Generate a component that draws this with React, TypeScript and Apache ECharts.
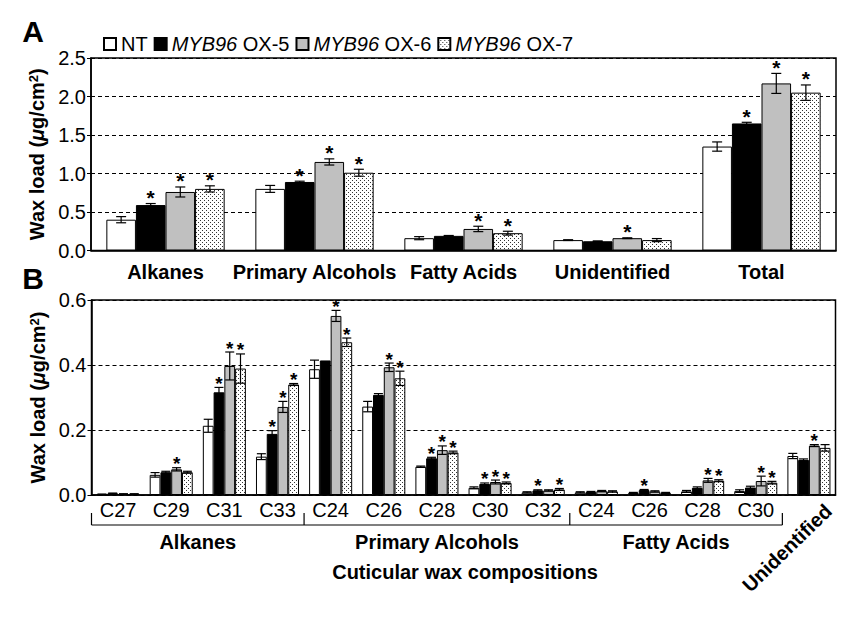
import React, { useEffect, useRef } from "react";
import * as echarts from "echarts";

const FONT = "Liberation Sans, Arial, Helvetica, sans-serif";

// Panel A
const aCategories = ["Alkanes", "Primary Alcohols", "Fatty Acids", "Unidentified", "Total"];
const seriesNames = ["NT", "MYB96 OX-5", "MYB96 OX-6", "MYB96 OX-7"];
const aTicks = [0, 0.5, 1.0, 1.5, 2.0, 2.5];

const aNT = [0.40, 0.80, 0.16, 0.135, 1.35];
const aOX5 = [0.59, 0.89, 0.19, 0.12, 1.65];
const aOX6 = [0.76, 1.15, 0.28, 0.16, 2.17];
const aOX7 = [0.80, 1.01, 0.225, 0.135, 2.05];

const aErrNT = [0.04, 0.045, 0.02, 0.005, 0.06];
const aErrOX5 = [0.02, 0.01, 0.005, 0.005, 0.015];
const aErrOX6 = [0.065, 0.04, 0.035, 0.005, 0.13];
const aErrOX7 = [0.04, 0.045, 0.025, 0.02, 0.1];

const aStarNT = [0, 0, 0, 0, 0];
const aStarOX5 = [1, 1, 0, 0, 1];
const aStarOX6 = [1, 1, 1, 1, 1];
const aStarOX7 = [1, 1, 1, 0, 1];

// Panel B
const bCategories = ["C27", "C29", "C31", "C33", "C24", "C26", "C28", "C30", "C32", "C24", "C26", "C28", "C30", "Unidentified"];
const bTicks = [0, 0.2, 0.4, 0.6];

const bNT = [0.002, 0.062, 0.213, 0.118, 0.387, 0.272, 0.087, 0.022, 0.008, 0.008, 0.006, 0.011, 0.012, 0.12];
const bOX5 = [0.005, 0.07, 0.316, 0.188, 0.414, 0.308, 0.113, 0.034, 0.014, 0.009, 0.015, 0.022, 0.023, 0.108];
const bOX6 = [0.003, 0.079, 0.397, 0.271, 0.551, 0.393, 0.138, 0.04, 0.014, 0.012, 0.011, 0.045, 0.043, 0.152];
const bOX7 = [0.003, 0.07, 0.389, 0.34, 0.47, 0.359, 0.131, 0.037, 0.017, 0.011, 0.006, 0.044, 0.038, 0.145];

const bErrNT = [0.001, 0.007, 0.02, 0.009, 0.028, 0.016, 0.002, 0.003, 0.002, 0.002, 0.002, 0.003, 0.004, 0.008];
const bErrOX5 = [0.001, 0.003, 0.015, 0.01, 0, 0.004, 0.003, 0.003, 0.002, 0.002, 0.002, 0.003, 0.004, 0.003];
const bErrOX6 = [0.001, 0.005, 0.043, 0.017, 0.017, 0.013, 0.013, 0.006, 0.002, 0.002, 0.002, 0.006, 0.015, 0.003];
const bErrOX7 = [0.001, 0.003, 0.045, 0.003, 0.013, 0.022, 0.004, 0.003, 0.003, 0.002, 0.002, 0.003, 0.004, 0.01];

const bStarNT = [0, 0, 0, 0, 0, 0, 0, 0, 0, 0, 0, 0, 0, 0];
const bStarOX5 = [0, 0, 1, 1, 0, 0, 1, 1, 1, 0, 1, 0, 0, 0];
const bStarOX6 = [0, 1, 1, 1, 1, 1, 1, 1, 0, 0, 0, 1, 1, 1];
const bStarOX7 = [0, 0, 1, 1, 1, 1, 1, 1, 1, 0, 0, 1, 1, 0];

const bGroups = [
  { label: "Alkanes", from: 0, to: 4 },
  { label: "Primary Alcohols", from: 4, to: 9 },
  { label: "Fatty Acids", from: 9, to: 13 },
];

function makeDots(): string {
  const c = document.createElement("canvas");
  c.width = 4;
  c.height = 4;
  const ctx = c.getContext("2d")!;
  ctx.fillStyle = "#ffffff";
  ctx.fillRect(0, 0, 4, 4);
  ctx.fillStyle = "#333333";
  ctx.fillRect(0, 0, 1, 1);
  ctx.fillRect(2, 2, 1, 1);
  return c.toDataURL();
}

export default function App() {
  const ref = useRef<HTMLDivElement>(null);

  useEffect(() => {
    if (!ref.current) return;
    const chart = echarts.init(ref.current, undefined, { renderer: "svg" });
    const dots = { image: makeDots(), repeat: "repeat", imageWidth: 4, imageHeight: 4 };
    const fills: any[] = ["#ffffff", "#000000", "#c0c0c0", dots];

    const gapA = 0.206;
    const gapB = 0.19;

    const aMeans = [aNT, aOX5, aOX6, aOX7];
    const aErrs = [aErrNT, aErrOX5, aErrOX6, aErrOX7];
    const aStars = [aStarNT, aStarOX5, aStarOX6, aStarOX7];
    const bMeans = [bNT, bOX5, bOX6, bOX7];
    const bErrs = [bErrNT, bErrOX5, bErrOX6, bErrOX7];
    const bStars = [bStarNT, bStarOX5, bStarOX6, bStarOX7];

    const errSeries = (
      id: string, axis: number, i: number, gap: number,
      means: number[], errs: number[], stars: number[],
      capHalf: number, starSize: number, starOff: number
    ) => ({
      type: "custom",
      name: id,
      xAxisIndex: axis,
      yAxisIndex: axis,
      z: 5,
      silent: true,
      encode: { x: 0, y: 1 },
      data: means.map((m, k) => [k, m, errs[k], stars[k]]),
      renderItem: (params: any, api: any) => {
        const k = api.value(0);
        const m = api.value(1);
        const e = api.value(2);
        const s = api.value(3);
        const c = api.coord([k, m]);
        const band = api.size([1, 0])[0];
        const gw = band * (1 - gap);
        const bw = gw / 4;
        const x = c[0] - gw / 2 + bw * (i + 0.5);
        const yT = api.coord([k, m + e])[1];
        const yB = api.coord([k, Math.max(0, m - e)])[1];
        const children: any[] = [];
        const ls = { stroke: "#000", lineWidth: 1.2 };
        if (e > 0) {
          children.push({ type: "line", shape: { x1: x, y1: yT, x2: x, y2: yB }, style: ls });
          children.push({ type: "line", shape: { x1: x - capHalf, y1: yT, x2: x + capHalf, y2: yT }, style: ls });
          children.push({ type: "line", shape: { x1: x - capHalf, y1: yB, x2: x + capHalf, y2: yB }, style: ls });
        }
        if (s) {
          children.push({
            type: "text",
            style: {
              text: "*", x, y: yT - starOff,
              align: "center", verticalAlign: "middle",
              textAlign: "center", textVerticalAlign: "middle",
              font: `bold ${starSize}px ${FONT}`, fill: "#000",
            },
          });
        }
        return { type: "group", children };
      },
    });

    const series: any[] = [];
    seriesNames.forEach((n, i) => {
      series.push({
        type: "bar", name: n, xAxisIndex: 0, yAxisIndex: 0,
        data: aMeans[i], barGap: "0%", barCategoryGap: gapA * 100 + "%",
        itemStyle: { color: fills[i], borderColor: "#000", borderWidth: 1 },
      });
    });
    seriesNames.forEach((n, i) => {
      series.push({
        type: "bar", name: n, xAxisIndex: 1, yAxisIndex: 1,
        data: bMeans[i], barGap: "0%", barCategoryGap: gapB * 100 + "%",
        itemStyle: { color: fills[i], borderColor: "#000", borderWidth: 1 },
      });
    });
    seriesNames.forEach((n, i) => {
      series.push(errSeries("errA" + i, 0, i, gapA, aMeans[i], aErrs[i], aStars[i], 5, 21, 6));
      series.push(errSeries("errB" + i, 1, i, gapB, bMeans[i], bErrs[i], bStars[i], 4.5, 19, 4));
    });

    const bLeft = 91.5;
    const bRight = 853 - 17.5;
    const band = (bRight - bLeft) / bCategories.length;
    const yName = "{b|Wax load (}{i|μ}{b|g/cm}{s|2}{b|)}";
    const nameRich = {
      b: { fontSize: 20, fontWeight: "bold", fontFamily: FONT, color: "#000" },
      i: { fontSize: 20, fontWeight: "bold", fontStyle: "italic", fontFamily: FONT, color: "#000" },
      s: { fontSize: 13, fontWeight: "bold", fontFamily: FONT, color: "#000", verticalAlign: "top" },
    };

    const graphics: any[] = [
      { type: "text", x: 33, y: 31, style: { text: "A", font: `bold 30px ${FONT}`, fill: "#000", align: "center", verticalAlign: "middle" } },
      { type: "text", x: 33, y: 278, style: { text: "B", font: `bold 30px ${FONT}`, fill: "#000", align: "center", verticalAlign: "middle" } },
      {
        type: "line",
        shape: { x1: bLeft + band * bGroups[0].from, y1: 525, x2: bLeft + band * bGroups[bGroups.length - 1].to, y2: 525 },
        style: { stroke: "#000", lineWidth: 1.2 },
      },
      { type: "text", x: 465, y: 572, style: { text: "Cuticular wax compositions", font: `bold 20px ${FONT}`, fill: "#000", align: "center", verticalAlign: "middle" } },
      {
        type: "text", x: 787, y: 548, rotation: 0.77,
        style: { text: bCategories[bCategories.length - 1], font: `bold 20px ${FONT}`, fill: "#000", align: "center", verticalAlign: "middle" },
      },
    ];
    const bounds = new Set<number>();
    bGroups.forEach((g) => { bounds.add(g.from); bounds.add(g.to); });
    bounds.forEach((k) => {
      graphics.push({
        type: "line",
        shape: { x1: bLeft + band * k, y1: 513, x2: bLeft + band * k, y2: 525 },
        style: { stroke: "#000", lineWidth: 1.2 },
      });
    });
    bGroups.forEach((g) => {
      graphics.push({
        type: "text", x: bLeft + band * (g.from + g.to) / 2, y: 542,
        style: { text: g.label, font: `bold 20px ${FONT}`, fill: "#000", align: "center", verticalAlign: "middle" },
      });
    });

    const axisLine = { show: true, lineStyle: { color: "#000", width: 1.5 } };

    chart.setOption({
      animation: false,
      backgroundColor: "#fff",
      textStyle: { fontFamily: FONT },
      legend: {
        data: seriesNames,
        left: 103, top: 34,
        padding: 0,
        itemWidth: 12, itemHeight: 12, itemGap: 6,
        icon: "rect",
        formatter: (n: string) => (n.startsWith("MYB96") ? "{i|MYB96}" + n.slice(5) : n),
        textStyle: {
          fontSize: 20, fontFamily: FONT, color: "#000",
          rich: { i: { fontSize: 20, fontFamily: FONT, fontStyle: "italic", color: "#000" } },
        },
        selectedMode: false,
      },
      grid: [
        { left: 91, top: 58, right: 17, height: 192.5, show: true, borderColor: "#000", borderWidth: 1.5, outerBoundsMode: "none", containLabel: false },
        { left: bLeft, top: 300, right: 17.5, height: 195, show: true, borderColor: "#000", borderWidth: 1.5, outerBoundsMode: "none", containLabel: false },
      ],
      xAxis: [
        {
          type: "category", gridIndex: 0, data: aCategories,
          axisLine, axisTick: { show: false },
          axisLabel: { interval: 0, fontSize: 20, fontWeight: "bold", color: "#000", margin: 11, fontFamily: FONT },
        },
        {
          type: "category", gridIndex: 1, data: bCategories,
          axisLine, axisTick: { show: false },
          axisLabel: {
            interval: 0, fontSize: 20, color: "#000", margin: 5, fontFamily: FONT,
            formatter: (v: string, idx: number) => (idx === bCategories.length - 1 ? "" : v),
          },
        },
      ],
      yAxis: [
        {
          type: "value", gridIndex: 0, min: aTicks[0], max: aTicks[aTicks.length - 1], interval: 0.5,
          axisLine, axisTick: { show: true, length: 4, lineStyle: { color: "#000" } },
          axisLabel: { fontSize: 20, color: "#000", margin: 5, fontFamily: FONT, formatter: (v: number) => v.toFixed(1) },
          splitLine: { show: true, lineStyle: { type: [4, 3], color: "#000", width: 1 } },
          name: yName, nameLocation: "middle", nameRotate: 90, nameGap: 38,
          nameTextStyle: { rich: nameRich },
        },
        {
          type: "value", gridIndex: 1, min: bTicks[0], max: bTicks[bTicks.length - 1], interval: 0.2,
          axisLine, axisTick: { show: true, length: 4, lineStyle: { color: "#000" } },
          axisLabel: { fontSize: 20, color: "#000", margin: 5, fontFamily: FONT, formatter: (v: number) => v.toFixed(1) },
          splitLine: { show: true, lineStyle: { type: [4, 3], color: "#000", width: 1 } },
          name: yName, nameLocation: "middle", nameRotate: 90, nameGap: 38,
          nameTextStyle: { rich: nameRich },
        },
      ],
      series,
      graphic: graphics,
    });

    return () => chart.dispose();
  }, []);

  return <div ref={ref} style={{ position: "fixed", left: 0, top: 0, width: 853, height: 618 }} />;
}
